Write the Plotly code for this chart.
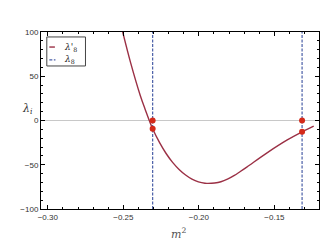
import plotly.graph_objects as go

# curve lambda'_8
m2_curve = [-0.2505, -0.2452, -0.2388, -0.2356, -0.2306, -0.2260, -0.2217, -0.2174, -0.2131,
            -0.2088, -0.2046, -0.2003, -0.1960, -0.1940, -0.1896, -0.1854, -0.1811, -0.1768,
            -0.1726, -0.1683, -0.1544, -0.1415, -0.1317, -0.1240]
lam_curve = [100.5, 65.4, 28.3, 12.8, -9.4, -25.1, -37.3, -47.3, -55.3,
             -61.6, -66.2, -69.3, -70.9, -71.0, -70.6, -69.2, -66.3, -62.3,
             -57.6, -52.6, -36.0, -22.0, -12.8, -6.4]

# vertical lines lambda_8
m2_vlines = [-0.2306, -0.1317]

# marked points
m2_points = [-0.2306, -0.2306, -0.1317, -0.1317]
lam_points = [0.0, -9.4, 0.0, -12.8]

x_ticks = [-0.30, -0.25, -0.20, -0.15]
x_ticklabels = ["−0.30", "−0.25", "−0.20", "−0.15"]
y_ticks = [-100, -50, 0, 50, 100]
y_ticklabels = ["−100", "−50", "0", "50", "100"]

legend_names = ["<i>λ'</i><sub>8</sub>", "<i>λ</i><sub>8</sub>"]

RED = "#9b3045"
BLUE = "#4a5fa8"

vx, vy = [], []
for v in m2_vlines:
    vx += [v, v, None]
    vy += [-100, 100, None]

fig = go.Figure()
fig.add_trace(go.Scatter(x=m2_curve, y=lam_curve, mode="lines",
                         line=dict(color=RED, width=1.4, shape="spline", smoothing=1.0),
                         name=legend_names[0], showlegend=False))
fig.add_trace(go.Scatter(x=vx, y=vy, mode="lines", line=dict(color=BLUE, width=1.2, dash="3px,1.5px"),
                         name=legend_names[1], showlegend=False))
fig.add_trace(go.Scatter(x=m2_points, y=lam_points, mode="markers", marker=dict(color="#d42a1a", size=6),
                         showlegend=False))

axcommon = dict(showgrid=False, ticks="inside", mirror="allticks", showline=True, linecolor="black", linewidth=1,
                ticklen=4, tickcolor="black", tickfont=dict(family="Liberation Sans", size=8, color="#333"),
                zeroline=False)
fig.update_xaxes(range=[-0.3045, -0.1205], tickvals=x_ticks, ticktext=x_ticklabels,
                 minor=dict(dtick=0.01, tick0=-0.30, ticks="inside", ticklen=2, tickcolor="black"), **axcommon)
fig.update_yaxes(range=[-100, 100], tickvals=y_ticks, ticktext=y_ticklabels,
                 minor=dict(dtick=10, tick0=0, ticks="inside", ticklen=2, tickcolor="black"), **axcommon)
fig.add_hline(y=0, line=dict(color="#c8c8c8", width=1), layer="below")

# axis labels
fig.add_annotation(text="<i>λ<sub>i</sub></i>", xref="paper", yref="paper", x=-0.049, y=0.565, showarrow=False,
                   xanchor="center", yanchor="middle", font=dict(family="DejaVu Serif", size=11, color="#333"))
fig.add_annotation(text="<i>m</i><sup>2</sup>", xref="paper", yref="paper", x=0.495, y=-0.136, showarrow=False,
                   xanchor="center", yanchor="middle", font=dict(family="DejaVu Serif", size=11, color="#555"))

# legend (drawn compactly)
fig.add_shape(type="rect", xref="paper", yref="paper", x0=0.0209, x1=0.160, y0=0.808, y1=0.972,
              line=dict(color="#444", width=1), fillcolor="white", layer="above")
fig.add_shape(type="line", xref="paper", yref="paper", x0=0.030, x1=0.050, y0=0.915, y1=0.915,
              line=dict(color=RED, width=1.4), layer="above")
fig.add_shape(type="line", xref="paper", yref="paper", x0=0.030, x1=0.052, y0=0.842, y1=0.842,
              line=dict(color=BLUE, width=1.2, dash="3px,1.5px"), layer="above")
fig.add_annotation(text=legend_names[0], xref="paper", yref="paper", x=0.074, y=0.915, showarrow=False,
                   xanchor="left", yanchor="middle", font=dict(family="DejaVu Serif", size=9, color="#222"))
fig.add_annotation(text=legend_names[1], xref="paper", yref="paper", x=0.074, y=0.842, showarrow=False,
                   xanchor="left", yanchor="middle", font=dict(family="DejaVu Serif", size=9, color="#222"))

fig.update_layout(width=324, height=241, margin=dict(l=25, r=12, t=24, b=40),
                  plot_bgcolor="white", paper_bgcolor="white")
fig.write_html("out.html")
